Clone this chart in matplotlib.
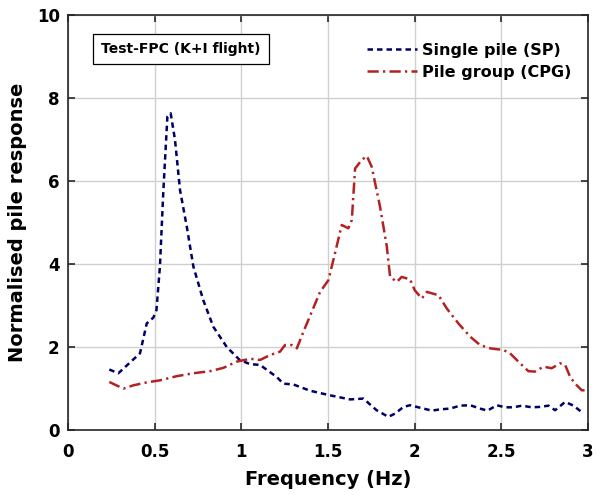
import matplotlib
matplotlib.use("Agg")
import matplotlib.pyplot as plt

# Single pile (SP)
sp_f = [0.238, 0.29, 0.415, 0.454, 0.492, 0.51, 0.53, 0.55, 0.573, 0.592, 0.617,
        0.646, 0.685, 0.723, 0.78, 0.838, 0.916, 0.99, 1.05, 1.108, 1.204, 1.242,
        1.3, 1.396, 1.51, 1.627, 1.704, 1.78, 1.848, 1.887, 1.935, 1.973, 2.031,
        2.099, 2.146, 2.204, 2.262, 2.32, 2.377, 2.42, 2.474, 2.52, 2.57, 2.618,
        2.676, 2.723, 2.772, 2.81, 2.868, 2.916, 2.974]
sp_r = [1.46, 1.37, 1.85, 2.57, 2.71, 2.89, 3.94, 5.78, 7.55, 7.63, 6.99,
        5.78, 4.9, 3.94, 3.13, 2.49, 2.0, 1.69, 1.59, 1.57, 1.28, 1.12,
        1.1, 0.95, 0.84, 0.74, 0.76, 0.48, 0.32, 0.40, 0.56, 0.60, 0.54,
        0.47, 0.50, 0.52, 0.59, 0.60, 0.52, 0.47, 0.60, 0.55, 0.55, 0.59,
        0.55, 0.56, 0.59, 0.48, 0.68, 0.59, 0.40]

# Pile group (CPG)
cpg_f = [0.238, 0.319, 0.377, 0.454, 0.531, 0.627, 0.723, 0.819, 0.896, 0.973,
         1.03, 1.05, 1.108, 1.166, 1.223, 1.252, 1.29, 1.32, 1.358, 1.406, 1.454,
         1.502, 1.54, 1.579, 1.617, 1.637, 1.656, 1.695, 1.724, 1.752, 1.80,
         1.839, 1.858, 1.897, 1.925, 1.973, 2.0, 2.041, 2.07, 2.137, 2.185,
         2.252, 2.32, 2.377, 2.435, 2.512, 2.55, 2.608, 2.656, 2.694, 2.743,
         2.79, 2.839, 2.868, 2.897, 2.925, 2.964, 2.98]
cpg_r = [1.16, 1.0, 1.08, 1.15, 1.2, 1.30, 1.37, 1.42, 1.50, 1.65,
         1.70, 1.72, 1.69, 1.81, 1.89, 2.05, 2.05, 1.97, 2.37, 2.85, 3.33,
         3.61, 4.26, 4.94, 4.86, 5.06, 6.30, 6.51, 6.60, 6.34, 5.38,
         4.42, 3.69, 3.57, 3.69, 3.63, 3.37, 3.17, 3.33, 3.25, 2.93,
         2.57, 2.25, 2.05, 1.97, 1.93, 1.85, 1.61, 1.42, 1.41, 1.53,
         1.49, 1.61, 1.57, 1.28, 1.12, 0.96, 0.96]

xticks = [0, 0.5, 1, 1.5, 2, 2.5, 3]
xticklabels = ["0", "0.5", "1", "1.5", "2", "2.5", "3"]
yticks = [0, 2, 4, 6, 8, 10]

plt.rcParams['font.family'] = 'DejaVu Sans'
plt.rcParams['font.weight'] = 'bold'

fig = plt.figure(figsize=(5.97, 4.95), dpi=100)
ax = fig.add_axes([0.114, 0.131, 0.871, 0.839])

ax.plot(sp_f, sp_r, color='#000066', lw=1.8, linestyle=(0, (2.2, 1.6)),
        label='Single pile (SP)')
ax.plot(cpg_f, cpg_r, color='#b22222', lw=1.8, linestyle=(0, (4.5, 1.7, 0.9, 1.7)),
        label='Pile group (CPG)')

ax.set_xlim(0, 3)
ax.set_ylim(0, 10)
ax.set_xticks(xticks)
ax.set_xticklabels(xticklabels)
ax.set_yticks(yticks)
ax.tick_params(direction='in', labelsize=12, width=1.2, length=5, colors='#262626',
               top=True, right=True, pad=6)
ax.tick_params(axis='x', pad=9)
for lbl in ax.get_xticklabels() + ax.get_yticklabels():
    lbl.set_fontweight('bold')
    lbl.set_color('black')
ax.grid(True, color='#d0d0d0', lw=1)
ax.set_axisbelow(True)
for s in ax.spines.values():
    s.set_linewidth(1.2)
    s.set_color('#262626')

ax.set_xlabel('Frequency (Hz)', fontsize=14, fontweight='bold', labelpad=7)
ax.set_ylabel('Normalised pile response', fontsize=14, fontweight='bold', labelpad=7)

leg = ax.legend(loc='upper left', frameon=False, fontsize=11.5, handlelength=3.1,
                handletextpad=0.3, labelspacing=0.45, borderaxespad=0,
                bbox_to_anchor=(0.563, 0.948))
for t in leg.get_texts():
    t.set_fontweight('bold')

ax.text(0.217, 0.918, 'Test-FPC (K+I flight)', transform=ax.transAxes,
        fontsize=10, fontweight='bold', ha='center', va='center',
        bbox=dict(boxstyle='square,pad=0.6', fc='white', ec='black', lw=0.9))

fig.savefig('out.png', dpi=100)
